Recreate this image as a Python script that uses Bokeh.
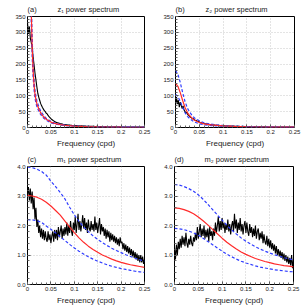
from bokeh.plotting import figure
from bokeh.layouts import column, row
from bokeh.models import FixedTicker, CustomJSTickFormatter
from bokeh.embed import file_html
from bokeh.resources import INLINE

# ---------------- data ----------------
freq_obs = [round(i * 0.002, 3) for i in range(126)]

z1_obs = [330, 295, 318, 282, 268, 252, 222, 198, 172, 150,
          128, 108, 96, 86, 76, 69, 63, 58, 53, 50,
          45, 43, 38, 34, 31, 28, 25, 23, 21, 19,
          17, 16, 15, 14, 13, 12, 11.5, 11, 10, 9.5,
          9, 8.5, 8.8, 8, 7.5, 7.8, 7, 6.8, 6.5, 6.2,
          6, 5.8, 6.1, 5.5, 5.3, 5.6, 5, 4.8, 5.1, 4.6,
          4.5, 4.3, 4.6, 4.1, 4, 4.2, 3.8, 3.7, 3.9, 3.5,
          3.4, 3.6, 3.3, 3.2, 3.4, 3.0, 3.1, 2.9, 3.0, 2.8,
          2.7, 2.9, 2.6, 2.7, 2.5, 2.6, 2.4, 2.5, 2.3, 2.4,
          2.2, 2.3, 2.1, 2.2, 2.0, 2.1, 2.0, 1.9, 2.0, 1.8,
          1.9, 1.8, 1.7, 1.8, 1.7, 1.6, 1.7, 1.6, 1.5, 1.6,
          1.5, 1.6, 1.4, 1.5, 1.4, 1.5, 1.3, 1.4, 1.3, 1.4,
          1.3, 1.2, 1.3, 1.2, 1.3, 1.2]

z2_obs = [70, 96, 74, 86, 64, 80, 70, 60, 68, 55,
          50, 45, 48, 40, 38, 34, 32, 30, 27, 28,
          24, 22, 23, 19, 20, 17, 16, 15, 14, 13.5,
          12.5, 12, 11, 11.5, 10, 9.5, 9, 8.5, 8.8, 8,
          7.5, 7.8, 7, 6.8, 6.5, 6.7, 6, 5.8, 6, 5.5,
          5.3, 5.5, 5, 4.8, 5, 4.6, 4.5, 4.3, 4.5, 4.1,
          4, 4.2, 3.8, 3.7, 3.9, 3.5, 3.4, 3.6, 3.3, 3.2,
          3.3, 3.0, 3.1, 2.9, 3.0, 2.8, 2.7, 2.9, 2.6, 2.7,
          2.5, 2.6, 2.4, 2.5, 2.3, 2.4, 2.2, 2.3, 2.1, 2.2,
          2.0, 2.1, 2.0, 1.9, 2.0, 1.8, 1.9, 1.8, 1.7, 1.8,
          1.7, 1.6, 1.7, 1.6, 1.5, 1.6, 1.5, 1.6, 1.4, 1.5,
          1.4, 1.5, 1.3, 1.4, 1.3, 1.4, 1.3, 1.2, 1.3, 1.2,
          1.2, 1.3, 1.1, 1.2, 1.1, 1.2]

m1_obs = [3.05, 3.3, 2.85, 3.25, 2.75, 3.15,
          2.55, 2.95, 2.2, 2.6, 1.95,
          2.2, 1.75, 2.0, 1.6, 1.9, 1.55, 1.85, 1.5, 1.8, 1.55,
          1.45, 1.8, 1.5, 1.7, 1.4, 1.65, 1.8, 1.45, 1.85, 1.55,
          1.85, 1.5, 1.95, 1.6, 1.8, 2.0, 1.55, 1.9, 1.65, 1.95,
          1.7, 2.1, 1.65, 2.0, 1.75, 2.15, 1.8, 1.65, 2.1, 1.85,
          2.3, 1.75, 2.05, 2.4, 1.85, 2.15, 1.8, 2.05, 2.35, 1.9,
          2.25, 1.85, 2.1, 1.75, 2.2, 1.9, 1.8, 2.15, 1.85, 2.05,
          1.8, 2.3, 1.85, 2.1, 1.75, 2.0, 2.25, 1.7, 2.05, 1.8,
          1.95, 1.65, 1.9, 1.55, 1.85, 1.6, 1.8, 1.45, 1.75, 1.5,
          1.7, 1.45, 1.65, 1.4, 1.6, 1.35, 1.55, 1.3, 1.6, 1.4,
          1.45, 1.2, 1.4, 1.15, 1.35, 1.1, 1.3, 1.05, 1.25, 1.0,
          1.2, 0.95, 1.15, 0.9, 1.1, 0.85, 1.05, 0.8, 1.0, 0.75,
          1.0, 0.75, 0.95, 0.7, 0.85]

m2_obs = [1.25, 0.85, 1.35, 1.0, 1.45, 1.2,
          1.55, 1.25, 1.65, 1.35, 1.6,
          1.3, 1.75, 1.4, 1.25, 1.55, 1.35, 1.65, 1.4, 1.3, 1.6,
          1.45, 1.75, 1.5, 1.95, 1.55, 1.8, 2.05, 1.6, 1.9, 1.65,
          2.0, 1.55, 1.85, 1.6, 1.9, 1.45, 1.95, 1.65, 1.8, 1.5,
          1.9, 1.65, 2.1, 1.75, 2.0, 2.3, 1.8, 2.15, 1.85, 2.25,
          1.9, 2.1, 1.75, 2.05, 1.85, 2.2, 1.8, 2.05, 1.7, 2.0,
          2.15, 1.8, 2.4, 1.9, 2.2, 1.75, 2.1, 1.85, 2.25, 1.8,
          2.05, 1.7, 2.0, 2.15, 1.75, 2.1, 1.8, 1.65, 2.05, 1.75,
          1.95, 1.6, 1.9, 1.65, 2.0, 1.55, 1.8, 1.9, 1.5, 1.75,
          1.55, 1.8, 1.4, 1.7, 1.45, 1.35, 1.65, 1.3, 1.55, 1.25,
          1.5, 1.2, 1.4, 1.15, 1.35, 1.05, 1.3, 1.0, 1.2, 0.95,
          1.15, 0.9, 1.1, 0.85, 1.05, 0.8, 1.0, 0.75, 0.95, 0.7,
          0.9, 0.65, 1.0, 0.55, 0.85]

freq_z1_model = [0.003, 0.004, 0.006, 0.008, 0.01, 0.012, 0.014, 0.016, 0.018, 0.02,
                 0.025, 0.03, 0.035, 0.04, 0.05, 0.06, 0.07, 0.08, 0.1, 0.125,
                 0.15, 0.2, 0.25]
z1_model = [2000, 1200, 600, 370, 250, 180, 135, 105, 88, 75,
            55, 42, 33, 26, 17, 12, 9, 7, 4.5, 3,
            2, 1.2, 0.8]
z1_upper = [2250, 1350, 675, 415, 280, 202, 152, 118, 99, 84,
            62, 47, 37, 29, 19, 13.5, 10, 7.8, 5.0, 3.4,
            2.2, 1.35, 0.9]
z1_lower = [1760, 1055, 530, 325, 220, 158, 119, 92, 77, 66,
            48, 37, 29, 23, 15, 10.5, 7.9, 6.2, 4.0, 2.6,
            1.75, 1.05, 0.7]

freq_z2_model = [0, 0.005, 0.01, 0.015, 0.02, 0.025, 0.03, 0.035, 0.04, 0.05,
                 0.06, 0.075, 0.1, 0.125, 0.15, 0.2, 0.25]
z2_model = [140, 130, 110, 85, 63, 47, 37, 29, 23, 16, 11.5, 8, 5, 3.3, 2.4, 1.4, 0.9]
z2_upper = [180, 168, 142, 110, 82, 61, 48, 38, 30, 21, 15, 10.4, 6.5, 4.3, 3.1, 1.8, 1.2]
z2_lower = [105, 97, 82, 64, 47, 35, 28, 22, 17, 12, 8.6, 6, 3.7, 2.5, 1.8, 1.05, 0.7]

freq_m_model = [round(i * 0.01, 2) for i in range(26)]
m1_upper = [3.98, 3.96, 3.91, 3.83, 3.71, 3.5, 3.32, 3.12, 2.9, 2.62,
            2.36, 2.14, 1.95, 1.79, 1.65, 1.53, 1.42, 1.32, 1.23, 1.15,
            1.08, 1.01, 0.95, 0.89, 0.84, 0.79]
m1_model = [3.02, 3.0, 2.96, 2.89, 2.79, 2.66, 2.51, 2.35, 2.15, 1.95,
            1.76, 1.58, 1.43, 1.30, 1.19, 1.09, 1.0, 0.93, 0.86, 0.80,
            0.75, 0.71, 0.67, 0.64, 0.61, 0.58]
m1_lower = [2.2, 2.19, 2.16, 2.11, 1.98, 1.87, 1.75, 1.62, 1.49, 1.36,
            1.24, 1.13, 1.03, 0.94, 0.86, 0.79, 0.73, 0.67, 0.62, 0.58,
            0.54, 0.51, 0.48, 0.45, 0.43, 0.41]
m2_upper = [3.39, 3.37, 3.32, 3.25, 3.16, 3.04, 2.89, 2.72, 2.54, 2.36,
            2.18, 2.01, 1.85, 1.71, 1.58, 1.47, 1.37, 1.28, 1.20, 1.13,
            1.07, 1.01, 0.96, 0.91, 0.87, 0.83]
m2_model = [2.6, 2.58, 2.54, 2.48, 2.40, 2.29, 2.16, 2.02, 1.87, 1.72,
            1.57, 1.43, 1.31, 1.20, 1.10, 1.02, 0.95, 0.88, 0.83, 0.78,
            0.74, 0.70, 0.67, 0.64, 0.62, 0.60]
m2_lower = [1.9, 1.89, 1.86, 1.81, 1.75, 1.67, 1.57, 1.46, 1.35, 1.24,
            1.13, 1.03, 0.94, 0.86, 0.79, 0.73, 0.68, 0.63, 0.59, 0.56,
            0.53, 0.50, 0.48, 0.46, 0.44, 0.43]

x_ticks = [0, 0.05, 0.1, 0.15, 0.2, 0.25]
y_ticks_top = [0, 50, 100, 150, 200, 250, 300, 350]
y_ticks_bot = [0, 1, 2, 3, 4]

FONT = "Liberation Sans"
RED = "#ff2a2a"
BLUE = "#2f3cff"
GAP = "\u00a0" * 10


def make_panel(tag, title, width, height, bl, br, bt, bb, ymax, yticks, yminor, yfmt):
    p = figure(width=width, height=height, x_range=(0, 0.25), y_range=(0, ymax),
               output_backend="svg", toolbar_location=None,
               min_border_left=bl, min_border_right=br,
               min_border_top=bt, min_border_bottom=bb)
    p.title.text = tag + GAP + title
    p.title.align = "left"
    p.title.text_font = FONT
    p.title.text_font_size = "7.5px"
    p.title.text_font_style = "normal"
    p.title.text_color = "#222222"
    p.title.standoff = 5
    p.outline_line_color = "black"
    p.outline_line_width = 1
    p.background_fill_color = "white"
    p.border_fill_color = "white"
    p.xaxis.ticker = FixedTicker(ticks=x_ticks,
                                 minor_ticks=[round(i * 0.01, 2) for i in range(26)])
    p.yaxis.ticker = FixedTicker(ticks=yticks, minor_ticks=yminor)
    p.xaxis.formatter = CustomJSTickFormatter(code="return String(Math.round(tick*100)/100);")
    p.yaxis.formatter = CustomJSTickFormatter(code=yfmt)
    for ax in (p.xaxis[0], p.yaxis[0]):
        ax.axis_line_color = None
        ax.major_tick_in = 3
        ax.major_tick_out = 0
        ax.minor_tick_in = 2
        ax.minor_tick_out = 0
        ax.major_tick_line_color = "#444444"
        ax.minor_tick_line_color = "#666666"
        ax.major_label_text_font = FONT
        ax.major_label_text_font_size = "6px"
        ax.major_label_text_color = "#222222"
        ax.major_label_standoff = 2
    p.xaxis.axis_label = "Frequency (cpd)"
    p.xaxis.axis_label_text_font = FONT
    p.xaxis.axis_label_text_font_size = "8px"
    p.xaxis.axis_label_text_font_style = "normal"
    p.xaxis.axis_label_text_color = "#222222"
    p.xaxis.axis_label_standoff = 2
    p.grid.grid_line_color = "#bbbbbb"
    p.grid.grid_line_dash = "1 2"
    p.grid.grid_line_width = 0.8
    return p


fmt_top = "return String(tick);"
fmt_bot = "return tick.toFixed(1);"
minor_top = list(range(0, 351, 10))
minor_bot = [round(i * 0.2, 1) for i in range(21)]

pa = make_panel("(a)", "z\u2081 power spectrum", 152, 150, 27, 8, 14, 20, 350, y_ticks_top, minor_top, fmt_top)
pb = make_panel("(b)", "z\u2082 power spectrum", 155, 150, 23, 13, 14, 20, 350, y_ticks_top, minor_top, fmt_top)
pc = make_panel("(c)", "m\u2081 power spectrum", 152, 157, 27, 8, 16, 22, 4, y_ticks_bot, minor_bot, fmt_bot)
pd = make_panel("(d)", "m\u2082 power spectrum", 155, 157, 22, 14, 15, 22, 4, y_ticks_bot, minor_bot, fmt_bot)


def draw(p, fobs, obs, fm, up, mod, lo):
    p.line(fobs, obs, line_color="black", line_width=1.1)
    p.line(fm, up, line_color=BLUE, line_width=1.2, line_dash="3 2")
    p.line(fm, lo, line_color=BLUE, line_width=1.2, line_dash="3 2")
    p.line(fm, mod, line_color=RED, line_width=1.2)


draw(pa, freq_obs, z1_obs, freq_z1_model, z1_upper, z1_model, z1_lower)
draw(pb, freq_obs, z2_obs, freq_z2_model, z2_upper, z2_model, z2_lower)
draw(pc, freq_obs, m1_obs, freq_m_model, m1_upper, m1_model, m1_lower)
draw(pd, freq_obs, m2_obs, freq_m_model, m2_upper, m2_model, m2_lower)

layout = column(row(pa, pb), row(pc, pd))
open("out.html", "w").write(file_html(layout, INLINE))
